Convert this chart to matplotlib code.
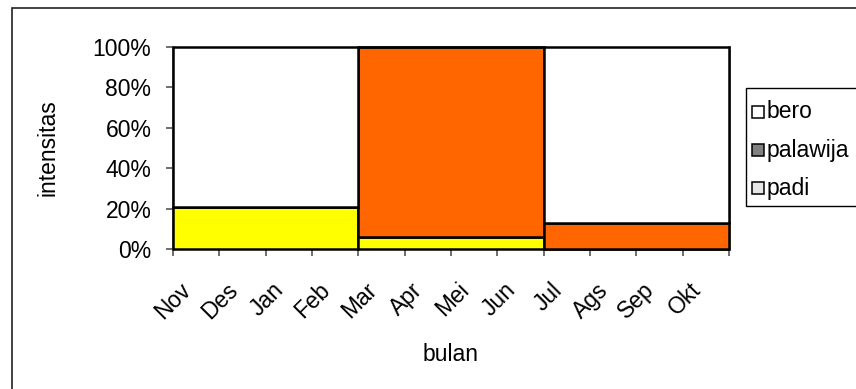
import matplotlib
matplotlib.use("Agg")
import matplotlib.pyplot as plt
from matplotlib.patches import Rectangle
from matplotlib.ticker import FuncFormatter

plt.rcParams['font.family'] = ['Liberation Sans', 'DejaVu Sans']

months = ['Nov', 'Des', 'Jan', 'Feb', 'Mar', 'Apr', 'Mei', 'Jun', 'Jul', 'Ags', 'Sep', 'Okt']
period_start = ['Nov', 'Mar', 'Jul']
period_length = [4, 4, 4]
padi = [21, 6, 0]
palawija = [0, 94, 13]
bero = [79, 0, 87]

series_colors = {'padi': '#FFFF00', 'palawija': '#FF6600', 'bero': '#FFFFFF'}
legend_labels = ['bero', 'palawija', 'padi']
legend_colors = ['#FFFFFF', '#808080', '#E6E6E6']

FS = 16.5
W, H = 856, 389

fig = plt.figure(figsize=(W/100, H/100), dpi=100)
ax = fig.add_axes([173/W, 1-249/H, 556/W, (249-46.7)/H])

x0 = [months.index(m) for m in period_start]
bottom = [0]*len(x0)
for name, vals in [('padi', padi), ('palawija', palawija), ('bero', bero)]:
    ax.bar(x0, vals, width=period_length, bottom=bottom, align='edge',
           color=series_colors[name], edgecolor='black', linewidth=1.8,
           clip_on=False, zorder=3)
    bottom = [b + v for b, v in zip(bottom, vals)]

ax.set_xlim(0, len(months))
ax.set_ylim(0, 100)
ax.set_yticks([0, 20, 40, 60, 80, 100])
ax.yaxis.set_major_formatter(FuncFormatter(lambda v, p: f"{int(v)}%"))
ax.set_xticks(range(len(months)+1))
ax.set_xticklabels([])
ax.set_xticks([i + 0.32 for i in range(len(months))], minor=True)
ax.set_xticklabels(months, minor=True, rotation=45, ha='right', va='center',
                   rotation_mode='anchor', fontsize=FS)
ax.tick_params(axis='x', which='minor', length=0, pad=27)
ax.tick_params(axis='x', which='major', length=5, width=1.2, color='#555555', direction='out')
ax.tick_params(axis='y', length=5, width=1.2, color='#555555', direction='out', labelsize=FS, pad=10.5)

ax.spines['top'].set_visible(False)
ax.spines['bottom'].set_visible(False)
ax.spines['left'].set_color('#808080')
ax.spines['left'].set_linewidth(2)
ax.spines['right'].set_color('#808080')
ax.spines['right'].set_linewidth(2)

ax.set_ylabel('intensitas', fontsize=FS, labelpad=24)
ax.set_xlabel('bulan', fontsize=FS, labelpad=14)

# legend drawn manually (box extends past the right edge as in the reference)
fig.patches.append(Rectangle((746/W, 1-206/H), 130/W, 118/H, transform=fig.transFigure,
                             facecolor='white', edgecolor='black', linewidth=1))
ys = [112, 150, 188]
for lab, col, yc in zip(legend_labels, legend_colors, ys):
    fig.patches.append(Rectangle((752/W, 1-(yc+6)/H), 12/W, 12/H, transform=fig.transFigure,
                                 facecolor=col, edgecolor='black', linewidth=1.1))
    fig.text(767/W, 1-yc/H, lab, fontsize=FS, va='center', ha='left')

fig.patches.append(Rectangle((12/W, -0.1), 1.0, 1.1 - 8/H, transform=fig.transFigure,
                             fill=False, edgecolor='#222222', linewidth=1.2))

fig.savefig('out.png', dpi=100)
